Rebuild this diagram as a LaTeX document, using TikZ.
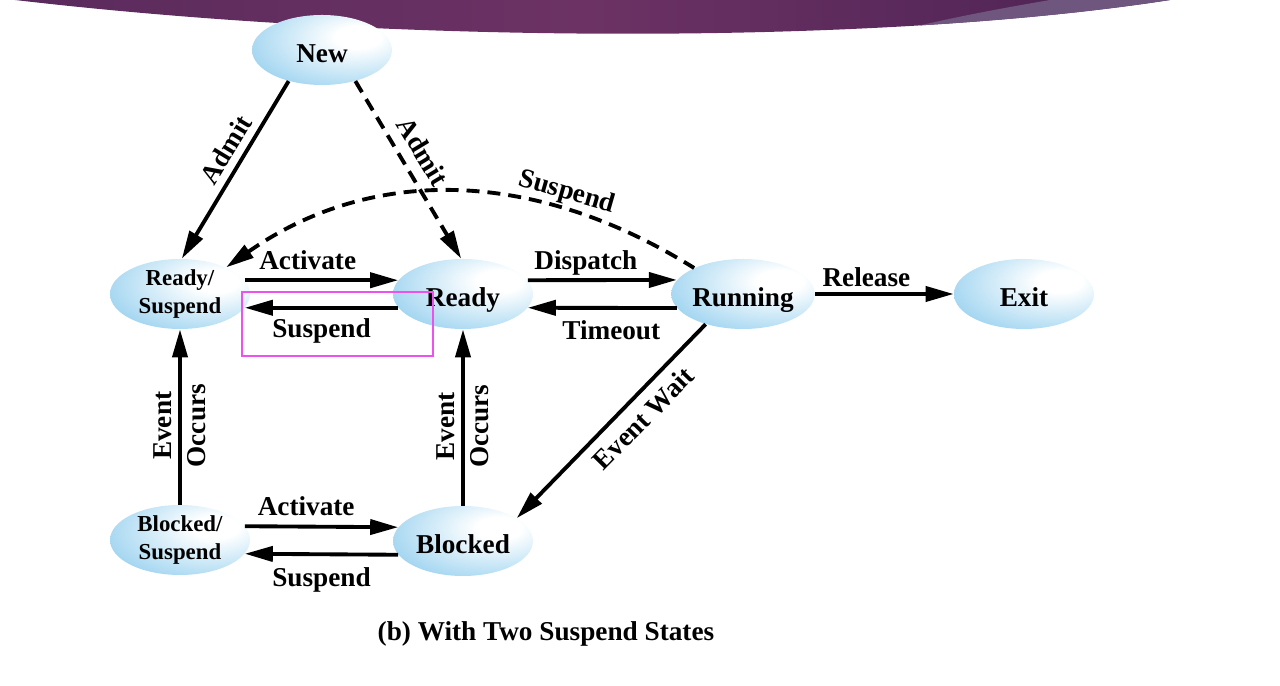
\documentclass[tikz,border=0pt]{standalone}
\usepackage{fontspec}
\setmainfont{Liberation Serif}
\usepackage{tikz}
\usepackage{xcolor}
\usetikzlibrary{arrows.meta,shapes}
\definecolor{stateblue}{RGB}{92,182,230}
\definecolor{bannerdark}{RGB}{90,42,92}
\definecolor{bannermid}{RGB}{108,50,100}
\definecolor{bannerend}{RGB}{76,34,84}
\definecolor{bannerlight}{RGB}{110,86,126}
\definecolor{markpink}{RGB}{238,82,238}
\pgfdeclareradialshading{stateshade}{\pgfpoint{14bp}{10bp}}{color(0bp)=(white); color(8bp)=(white); color(58bp)=(stateblue); color(100bp)=(stateblue)}

\begin{document}
\begin{tikzpicture}[>={Stealth[length=0.56cm,width=0.3cm,inset=0pt]},
state/.style={ellipse,shading=stateshade,minimum width=2.8cm,minimum height=1.4cm,inner sep=0pt,text height=14pt,text depth=0pt,font=\fontsize{15.5}{17}\selectfont\bfseries},
statetwo/.style={state,align=center,text height=,text depth=,font=\fontsize{13}{15.9}\selectfont\bfseries},
arr/.style={line width=2.2pt,->},
dashpat/.style={dash pattern=on 0.26cm off 0.16cm},
lbl/.style={font=\fontsize{15.5}{19.3}\selectfont\bfseries,inner sep=3pt},
hlbl/.style={lbl,text height=0.7em,text depth=0.22em}]
\useasboundingbox (0,0) rectangle (25.6,13.72);
\begin{scope}
\clip (0.3,13.72) .. controls (8,12.82) and (17.6,12.82) .. (23.4,13.72) -- cycle;
\shade[left color=bannerdark,right color=bannerend,middle color=bannermid] (0,12.5) rectangle (23.4,13.72);
\fill[bannerlight] (21,13.72) .. controls (19.6,13.48) and (18.6,13.28) .. (17.2,12.92) -- (17.2,12.5) -- (23.4,12.5) -- (23.4,13.72) -- cycle;
\end{scope}
\node[state] (New) at (6.44,12.72) {New};
\node[statetwo] (RdySus) at (3.6,7.84) {Ready/\\Suspend};
\node[state] (Ready) at (9.26,7.84) {Ready};
\node[state] (Running) at (14.86,7.84) {Running};
\node[state] (Exit) at (20.48,7.84) {Exit};
\node[statetwo] (BlkSus) at (3.6,2.92) {Blocked/\\Suspend};
\node[state] (Blocked) at (9.26,2.9) {Blocked};
\draw[arr](New.223)--node[hlbl,pos=0.44,rotate=58.75,anchor=south,inner sep=2pt]{Admit}(RdySus.87);
\draw[arr,dashpat](New.317)--node[hlbl,pos=0.46,rotate=-59,anchor=south,inner sep=4pt]{Admit}(Ready.93);
\draw[arr,dashpat,<-](RdySus.30) to[out=35,in=148] node[hlbl,pos=0.72,sloped,above,inner sep=2pt]{Suspend}(Running.152);
\draw[arr](RdySus.12)--node[hlbl,pos=0.41,above]{Activate}(Ready.168);
\draw[arr](Ready.192)--node[hlbl,pos=0.5,below=6pt]{Suspend}(RdySus.-12);
\draw[arr](Ready.12)--node[hlbl,pos=0.39,above]{Dispatch}(Running.168);
\draw[arr](Running.192)--node[hlbl,pos=0.44,below=7pt]{Timeout}(Ready.-12);
\draw[arr](Running)--node[hlbl,pos=0.37,above,inner sep=1pt]{Release}(Exit);
\draw[arr](Running.219)--node[hlbl,pos=0.41,rotate=45.6,anchor=north,inner sep=9pt]{Event Wait}(Blocked.23);
\draw[arr](BlkSus)--node[lbl,pos=0.45,rotate=90,align=center]{Event\\Occurs}(RdySus);
\draw[arr](Blocked)--node[lbl,pos=0.45,rotate=90,align=center]{Event\\Occurs}(Ready);
\draw[arr](BlkSus.12)--node[hlbl,pos=0.4,above]{Activate}(Blocked.168);
\draw[arr](Blocked.192)--node[hlbl,pos=0.5,below=7pt]{Suspend}(BlkSus.-12);
\node[lbl] (caption) at (10.92,1.04) {(b) With Two Suspend States};
\draw[markpink,line width=1.6pt] (4.84,7.88) rectangle (8.66,6.6);
\end{tikzpicture}
\end{document}
